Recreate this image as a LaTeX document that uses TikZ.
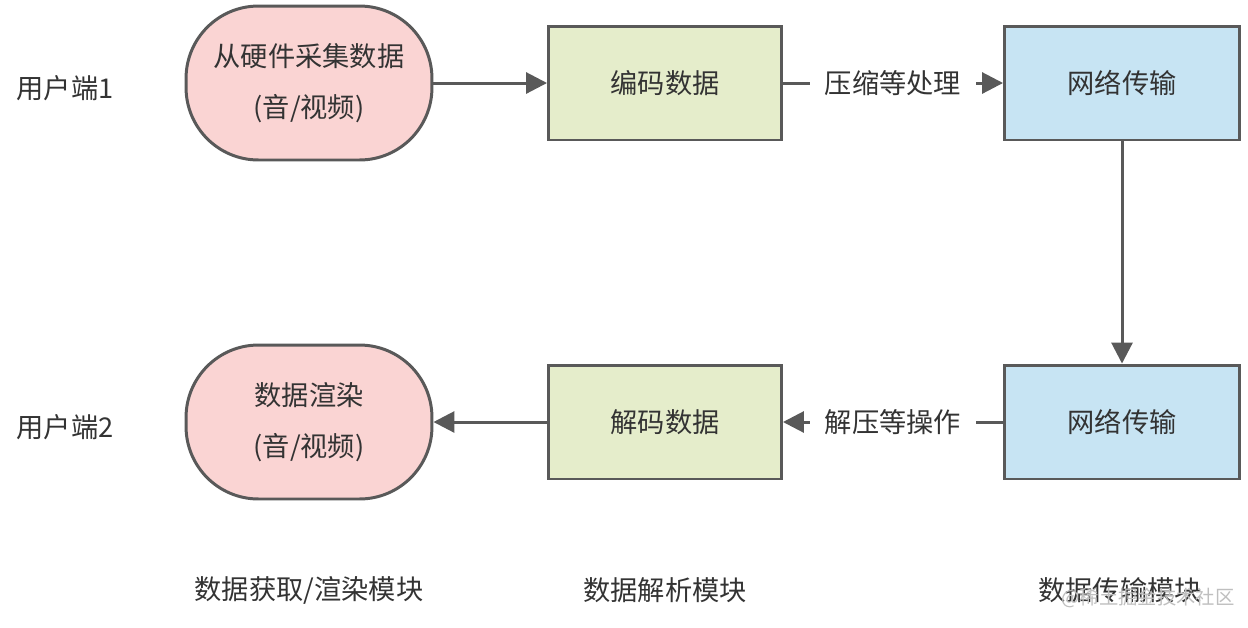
\documentclass[tikz,border=0pt]{standalone}
\usepackage{fontspec}
\setmainfont{Noto Sans CJK SC}
\usetikzlibrary{arrows.meta}
\definecolor{PinkFill}{HTML}{FAD4D3}
\definecolor{GreenFill}{HTML}{E5EDCB}
\definecolor{BlueFill}{HTML}{C7E4F3}
\definecolor{LineGray}{HTML}{595959}
\definecolor{TextGray}{HTML}{333333}

\tikzset{
  box/.style={draw=LineGray,line width=1.7pt,text=TextGray,font=\fontsize{15.5}{18}\selectfont,
    align=center,minimum height=2.28cm},
  capture/.style={box,fill=PinkFill,minimum width=4.92cm,minimum height=3.08cm,
    rounded corners=1.45cm},
  codec/.style={box,fill=GreenFill,minimum width=4.66cm},
  net/.style={box,fill=BlueFill,minimum width=4.7cm},
  flow/.style={draw=LineGray,line width=1.7pt,-{Triangle[length=0.42cm,width=0.42cm]}},
  tag/.style={text=TextGray,font=\fontsize{15.5}{18}\selectfont},
  cut/.style={fill=white,inner xsep=0.3cm,text=TextGray,font=\fontsize{15.5}{18}\selectfont}
}

\begin{document}
\begin{tikzpicture}[x=0.02cm,y=-0.02cm]
  \path[use as bounding box,fill=white] (0,0) rectangle (1248,627);

  % client 1 row
  \node[tag] (user1) at (65,88) {用户端1};
  \node[capture] (grab) at (309,83) {从硬件采集数据\\[0.38cm](音/视频)};
  \node[codec] (encode) at (665,83) {编码数据};
  \node[net] (send) at (1122,83) {网络传输};

  % client 2 row
  \node[tag] (user2) at (65,427) {用户端2};
  \node[capture] (render) at (309,422) {数据渲染\\[0.38cm](音/视频)};
  \node[codec] (decode) at (665,422) {解码数据};
  \node[net] (recv) at (1122,422) {网络传输};

  % connectors
  \draw[flow] (grab) -- (encode);
  \draw[flow] (encode) -- node[cut] {压缩等处理} (send);
  \draw[flow] (send) -- (recv);
  \draw[flow] (recv) -- node[cut] {解压等操作} (decode);
  \draw[flow] (decode) -- (render);

  % module captions
  \node[tag] (modA) at (309,590) {数据获取/渲染模块};
  \node[tag] (modB) at (665,590) {数据解析模块};
  \node[tag] (modC) at (1120,590) {数据传输模块};
  \node[text=black!25,font=\fontsize{11}{13}\selectfont] (mark) at (1148,598) {@稀土掘金技术社区};
\end{tikzpicture}
\end{document}
